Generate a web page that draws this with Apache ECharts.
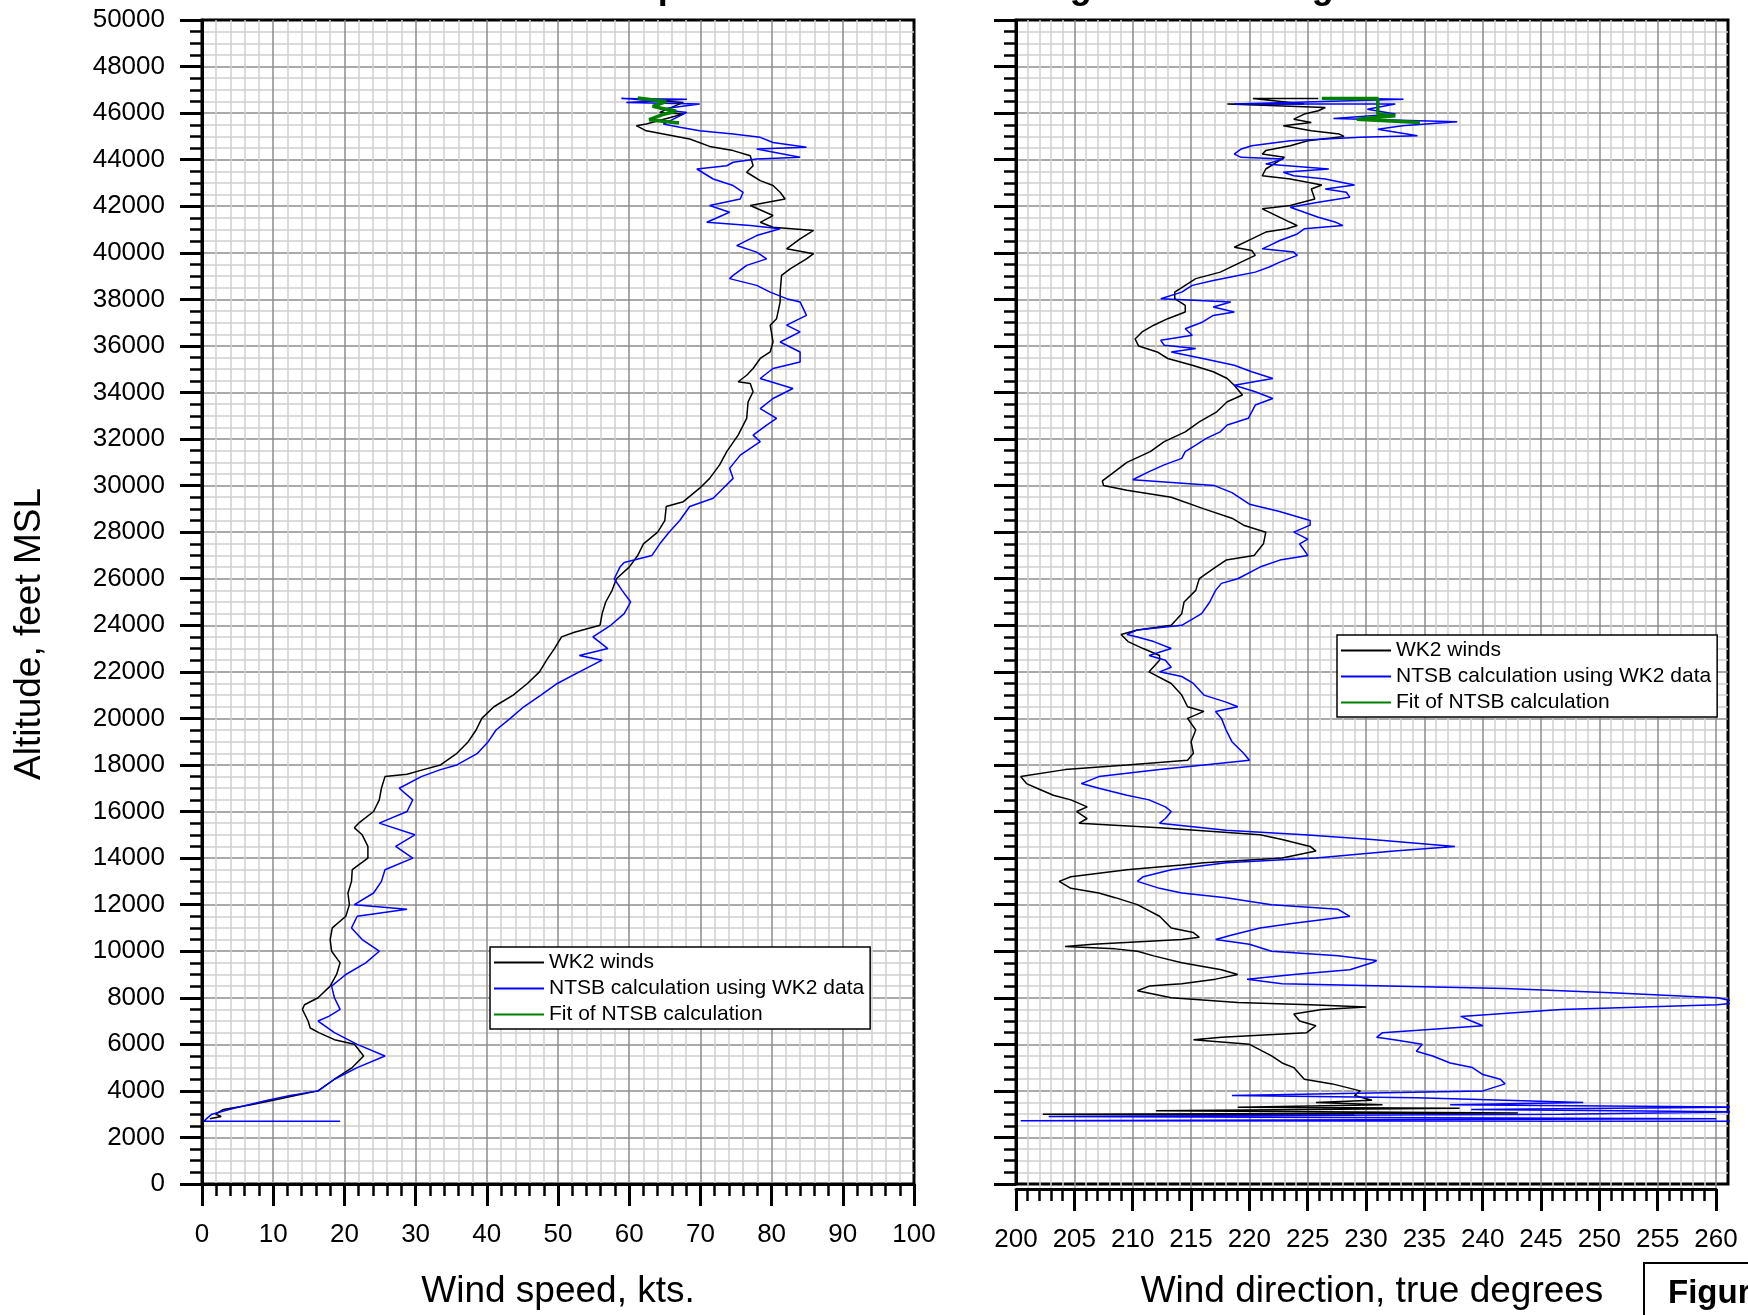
<!DOCTYPE html>
<html>
<head>
<meta charset="utf-8">
<script src="https://cdn.jsdelivr.net/npm/echarts@6/dist/echarts.min.js"></script>
<style>
html, body { margin: 0; padding: 0; background: #fff; }
#main { width: 1748px; height: 1315px; }
</style>
</head>
<body>
<div id="main"></div>
<script type="text/javascript">

var FONT = '"Liberation Sans", Arial, sans-serif';

var seriesNames = ['WK2 winds', 'NTSB calculation using WK2 data', 'Fit of NTSB calculation'];
var seriesColors = ['#000000', '#0000ff', '#008000'];

// wind speed [kts, altitude ft]
var speedWk2 = [
    [1.1,2800],[2.7,2900],[1.9,3000],[3,3200],[6.9,3400],[10,3600],[13.1,3800],[16.3,4000],
    [18.6,4500],[21.1,5000],[22.7,5500],[21.4,6000],[18.6,6200],[16.4,6500],[15.2,6700],[14.9,7000],
    [14.1,7500],[14.4,7700],[16.3,8000],[18,8500],[18.9,9000],[19.4,9500],[18.2,10000],[18,10500],
    [18.3,11000],[20.2,11500],[20.7,12000],[20.5,12500],[21,13000],[21.1,13500],[23.3,14000],[23.3,14500],
    [22.5,15000],[21.4,15300],[22,15500],[24.1,16000],[24.9,16500],[25.2,17000],[25.7,17500],[28.8,17600],
    [31.1,17800],[33.5,18000],[35.8,18500],[37.4,19000],[38.5,19500],[39.3,20000],[41,20500],[43.7,21000],
    [45.7,21500],[47.4,22000],[48.4,22500],[49.5,23000],[50.5,23500],[52.3,23700],[55.9,24000],[56.2,24500],
    [56.7,25000],[57.6,25500],[58.2,26000],[60,26500],[61.2,27000],[62,27500],[64,28000],[65,28500],
    [65.2,29100],[67.6,29310],[69.9,29890],[71.3,30310],[72.7,30890],[73.7,31460],[75.3,32170],[76.5,32890],
    [76.7,33600],[77.4,34030],[77,34390],[75.3,34460],[76.5,34740],[77.4,35030],[78.4,35460],[79.8,35740],
    [80.2,36170],[79.8,36890],[80.7,37170],[81.2,37890],[81.2,38310],[81.4,39030],[82.6,39310],[84.9,39740],
    [85.9,39960],[82.1,40170],[84,40600],[85.9,40960],[80.2,41100],[78.4,41310],[80.2,41600],[77,42030],
    [81.9,42310],[81.2,42600],[80.2,42890],[78.4,43100],[76.5,43460],[77.4,43740],[77,44170],[74.6,44390],
    [71.3,44570],[68.5,44890],[62.4,45240],[61,45460],[62.4,45530],[67.6,45960],[64.3,46030],[67.6,46460],
    [60.6,46600]
];
var speedNtsb = [
    [19.4,2700],[0.3,2700],[0.6,2800],[1.4,3000],[3.8,3200],[9.2,3600],[12.4,3800],[16.3,4000],
    [18.6,4500],[21.8,5000],[25.7,5500],[21.8,6000],[18.6,6500],[16.3,7000],[17.8,7200],[19.4,7500],
    [18.6,8000],[18.2,8500],[20.2,9000],[23,9500],[24.9,10000],[22.5,10500],[21,11000],[21.8,11500],
    [28.8,11800],[21.4,12000],[24.1,12500],[25.2,13000],[25.7,13500],[29.6,14000],[27.2,14500],[29.9,15000],
    [24.9,15500],[28.8,16000],[29.6,16500],[27.7,17000],[30.8,17500],[33.5,17800],[35.8,18000],[38.7,18500],
    [40.2,19000],[41.3,19500],[43.3,20000],[45.2,20500],[47.6,21000],[49.9,21500],[53,22000],[56.2,22500],
    [53,22700],[57,23000],[54.9,23500],[57.4,24000],[59.3,24500],[60.2,25000],[59,25500],[57.9,26000],
    [58.7,26500],[59.3,26700],[63.2,27000],[64.3,27500],[65.6,28000],[67.1,28500],[68.5,29100],[71.8,29460],
    [73.2,29890],[74.6,30310],[74.1,30740],[75.6,31310],[78.4,31890],[77.4,32170],[79.3,32600],[80.7,32890],
    [78.4,33310],[80.2,33740],[83,34170],[78.4,34600],[80.2,35030],[84,35310],[84,35740],[81.2,36170],
    [84,36600],[82.1,36890],[84.9,37310],[84,37890],[82.1,38030],[79.8,38310],[77.9,38600],[74.1,38890],
    [74.6,39030],[76.5,39460],[79.3,39740],[77.9,40030],[75.1,40310],[77.9,40740],[81.2,41030],[77,41170],
    [70.9,41310],[74.1,41740],[71.3,42030],[75.6,42310],[76,42600],[74.6,42890],[71.8,43170],[69.5,43600],
    [73.7,43740],[74.6,43890],[77.9,44030],[84,44100],[77.9,44460],[84.9,44530],[80.2,44740],[78.4,44960],
    [74.6,45100],[69.9,45240],[67.1,45390],[64.8,45530],[68.1,46030],[64.3,46170],[69.9,46390],[59.6,46460],
    [68.1,46600],[58.9,46630],[65.2,46530]
];
var speedFit = [
    [61.2,46650],[65.2,46500],[63.3,46290],[66.6,46080],[64.7,45940],[62.8,45720],[67,45580]
];

// wind direction [deg true, altitude ft]
var dirWk2 = [
    [229,2950],[202.3,3000],[243,3050],[212,3150],[238,3250],[219,3300],[231.4,3400],[225.7,3500],
    [230.5,3600],[229,3800],[229.5,4000],[227.1,4300],[224.7,4500],[223.8,5000],[222.8,5200],[221.9,5500],
    [220,6000],[215.2,6200],[217.6,6300],[224.9,6500],[225.7,6800],[224.3,7000],[223.8,7300],[226.2,7500],
    [230,7600],[225.2,7700],[219,7800],[213.3,8000],[210.4,8300],[211.4,8500],[214.2,8600],[217.1,8800],
    [219,9000],[217.6,9200],[214.2,9500],[211.8,9800],[210.4,10000],[208.5,10100],[204.2,10200],[206.6,10300],
    [214.2,10500],[215.7,10600],[215.2,10800],[213.3,11000],[212.3,11500],[210.4,12000],[208.5,12300],[207.1,12500],
    [204.7,12700],[203.7,13000],[204.7,13200],[209.5,13500],[214.2,13700],[216.1,13800],[222.8,14000],[225.7,14300],
    [225.2,14500],[222.8,14800],[220.9,15000],[212.3,15300],[205.4,15500],[206.1,15700],[205.2,16000],[206.1,16200],
    [204.7,16500],[203.2,16700],[201.8,17000],[200.9,17200],[200.4,17500],[204.2,17800],[209.5,18000],[214.7,18200],
    [215.2,18500],[215,19000],[215.4,19500],[214.7,20000],[216.1,20300],[214.7,20500],[214.2,21000],[213.3,21500],
    [211.4,22000],[212.3,22500],[212.3,22700],[210.9,23000],[209.6,23300],[209,23600],[210.4,23800],[213.3,24000],
    [214.2,24500],[214.4,25000],[215.4,25500],[215.7,26000],[217.1,26500],[218,26800],[220.4,27000],[221.2,27500],
    [221.4,28000],[219.5,28300],[218.5,28600],[216.1,29000],[213.3,29500],[209.5,29800],[207.5,30000],[207.4,30200],
    [208.2,30500],[209.5,31000],[211.5,31460],[212.7,31890],[214.5,32310],[215.7,32740],[217.2,33170],[218.1,33600],
    [219.4,33890],[218.7,34310],[218.1,34600],[216.9,34890],[215.1,35170],[213,35460],[212.1,35740],[210.5,36000],
    [210.2,36300],[210.8,36600],[211.8,36890],[213,37170],[214.5,37460],[214.5,37740],[213.6,38030],[213.6,38310],
    [214.5,38600],[215.4,38890],[217.5,39170],[218.7,39460],[220.5,39890],[220.2,40100],[218.7,40240],[220.2,40600],
    [221.4,40890],[223.2,41030],[224.1,41170],[223.5,41310],[222.3,41600],[221.1,41890],[223.5,42030],[225.6,42310],
    [225.3,42740],[226.2,42910],[223.5,43170],[221.1,43310],[221.4,43600],[223,44100],[221.1,44240],[221.4,44390],
    [223.5,44600],[225,44810],[228.1,45000],[227.7,45100],[225.3,45240],[222.9,45460],[225.3,45600],[223.8,45740],
    [224.7,45960],[225.9,46100],[226.5,46240],[218.1,46390],[224.7,46390],[220.3,46630],[225.9,46630]
];
var dirNtsb = [
    [262,2700],[200.4,2720],[260,2800],[202.8,2900],[246.7,3000],[262,3100],[239,3200],[262,3300],
    [237.2,3400],[248.6,3500],[241.9,3600],[234.3,3700],[218.5,3800],[240,4000],[241.9,4300],[241.5,4500],
    [240,4700],[239.1,5000],[237.2,5200],[235.7,5500],[234.3,5700],[234.8,6000],[232.4,6200],[230.9,6300],
    [231.4,6500],[240,6800],[239,7000],[238.1,7200],[246.7,7500],[260.1,7700],[262,7800],[260.1,8000],
    [251.5,8200],[241.9,8400],[222.8,8600],[219.8,8800],[223.8,9000],[228.6,9200],[230.5,9500],[230.9,9600],
    [227.6,9800],[221.9,10000],[220,10300],[217.1,10500],[218.5,10700],[220.9,11000],[223.8,11200],[228.6,11500],
    [227.6,11800],[221.9,12000],[218,12300],[214.2,12500],[212.3,12700],[210.4,13000],[210.9,13200],[213.3,13500],
    [218,13800],[225.7,14000],[232.4,14300],[237.6,14500],[230.5,14800],[224.7,15000],[218,15200],[212.3,15500],
    [212.8,15700],[213.3,16000],[212.8,16200],[211.4,16500],[209.5,16700],[207.1,17000],[205.6,17200],[207.1,17500],
    [212.3,17800],[216.1,18000],[220,18200],[219.5,18500],[218.5,19000],[218,19500],[217.6,20000],[217.1,20300],
    [219,20500],[218,20700],[216.1,21000],[215.2,21500],[214.2,21800],[212.3,22000],[213.3,22200],[212.8,22500],
    [211.4,22700],[213.3,23000],[211.8,23300],[210.4,23500],[209.5,23600],[210.4,23800],[214.2,24000],[215.9,24500],
    [216.6,25000],[217.1,25500],[217.6,25800],[219,26000],[220.9,26500],[222.6,26800],[225,27000],[224.3,27500],
    [225,27700],[223.8,28000],[225.2,28300],[225.2,28500],[222.5,28900],[220,29200],[218.5,29700],[217,30000],
    [210,30250],[211.4,30600],[212.7,30890],[214.2,31170],[214.5,31460],[215.4,31740],[216.3,32030],[217.5,32310],
    [218.1,32600],[219.9,32890],[220.2,33170],[220.5,33460],[222,33740],[220.5,34030],[218.7,34310],[222,34600],
    [220.2,34890],[218.7,35170],[216,35460],[213.3,35740],[215.4,35890],[212.7,36030],[212.4,36240],[215.1,36460],
    [214.5,36740],[216,37030],[216.9,37310],[218.7,37460],[216.9,37670],[218.4,37890],[212.4,38030],[214.2,38310],
    [215.1,38600],[216.9,38810],[218.4,38960],[220.5,39170],[221.7,39390],[222.6,39600],[224.1,39890],[223.8,40030],
    [221.1,40170],[221.7,40310],[222.6,40530],[224.1,40810],[224.7,41030],[228,41170],[227.4,41310],[225.9,41530],
    [224.7,41740],[223.5,41960],[225.9,42170],[228.6,42390],[228.3,42600],[226.5,42740],[229,42910],[226.5,43170],
    [223.8,43310],[222.9,43460],[226.8,43600],[221.4,43810],[222.9,44030],[219.3,44100],[218.7,44240],[219.3,44460],
    [220.2,44600],[223.5,44810],[229.5,44960],[234.4,45030],[231,45310],[233.1,45460],[237.8,45630],[227.2,45770],
    [232.5,45960],[230.1,46170],[232.5,46390],[218.7,46390],[233.2,46600],[229.5,46630]
];
var dirFit = [
    [226.2,46630],[231,46630],[231,45960],[232.5,45890],[229.2,45740],[234.6,45600]
];

function yAxisCfg(gridIndex, showLabels) {
    return {
        type: 'value',
        gridIndex: gridIndex,
        min: 0,
        max: 50000,
        interval: 2000,
        axisLine: { show: true, lineStyle: { color: '#000', width: 3 } },
        axisTick: { show: true, length: 22, lineStyle: { color: '#000', width: 3 } },
        minorTick: { show: true, splitNumber: 4, length: 12, lineStyle: { color: '#000', width: 2.5 } },
        axisLabel: {
            show: showLabels, margin: 37, fontSize: 26, color: '#000', fontFamily: FONT,
            formatter: function (v) { return String(v); }
        },
        splitLine: { show: true, showMinLine: false, showMaxLine: false, lineStyle: { color: '#8c8c8c', width: 1.5 } },
        minorSplitLine: { show: true, lineStyle: { color: '#cfcfcf', width: 1.5 } }
    };
}

function xAxisCfg(gridIndex, min, max, interval, showMax) {
    return {
        type: 'value',
        gridIndex: gridIndex,
        min: min,
        max: max,
        interval: interval,
        axisLine: { show: true, lineStyle: { color: '#000', width: 3 } },
        axisTick: { show: true, length: 22, lineStyle: { color: '#000', width: 3 } },
        minorTick: { show: true, splitNumber: 5, length: 12, lineStyle: { color: '#000', width: 2.5 } },
        axisLabel: { margin: 38, fontSize: 26, color: '#000', fontFamily: FONT },
        splitLine: { show: true, showMinLine: false, showMaxLine: showMax, lineStyle: { color: '#8c8c8c', width: 1.5 } },
        minorSplitLine: { show: true, lineStyle: { color: '#cfcfcf', width: 1.5 } }
    };
}

function makeLine(idx, data, axisIdx) {
    return {
        name: seriesNames[idx],
        type: 'line',
        xAxisIndex: axisIdx,
        yAxisIndex: axisIdx,
        data: data,
        symbol: 'none',
        clip: true,
        lineStyle: { color: seriesColors[idx], width: idx == 2 ? 3.5 : 1.5 },
        itemStyle: { color: seriesColors[idx] }
    };
}

function legendCfg(left, top) {
    return {
        orient: 'vertical',
        left: left,
        top: top,
        selectedMode: false,
        itemWidth: 50,
        itemHeight: 21,
        itemGap: 5,
        padding: [5, 6, 4, 3],
        borderColor: '#000',
        borderWidth: 1.5,
        borderRadius: 0,
        backgroundColor: '#fff',
        itemStyle: { opacity: 0 },
        textStyle: { fontSize: 21, color: '#000', fontFamily: FONT },
        data: seriesNames
    };
}

var speedX = xAxisCfg(0, 0, 100, 10, false);
speedX.name = 'Wind speed, kts.';
speedX.nameLocation = 'middle';
speedX.nameGap = 89;
speedX.nameTextStyle = { fontSize: 37, color: '#000', fontFamily: FONT };

var myChart = echarts.init(document.getElementById('main'));
myChart.setOption({
    animation: false,
    backgroundColor: '#fff',
    grid: [
        { left: 202, top: 20, width: 712, height: 1169, show: true, borderColor: '#000', borderWidth: 3 },
        { left: 1016, top: 20, width: 700, height: 1169 },
        { left: 1016, top: 20, width: 712, height: 1169, show: true, borderColor: '#000', borderWidth: 3 }
    ],
    xAxis: [
        speedX,
        xAxisCfg(1, 200, 260, 5, true),
        {
            type: 'value', gridIndex: 2, min: 200, max: 261,
            axisLine: { show: false }, axisTick: { show: false }, axisLabel: { show: false },
            splitLine: { show: false },
            name: 'Wind direction, true degrees',
            nameLocation: 'middle',
            nameGap: 89,
            nameTextStyle: { fontSize: 37, color: '#000', fontFamily: FONT }
        }
    ],
    yAxis: [
        yAxisCfg(0, true),
        { type: 'value', gridIndex: 1, min: 0, max: 50000, show: false },
        yAxisCfg(2, false)
    ],
    legend: [legendCfg(490, 947), legendCfg(1337, 635)],
    graphic: [
        {
            type: 'text', x: 536, y: 6, silent: true,
            style: {
                text: 'Wind Speed and Direction Using WK2 Heading',
                font: 'bold 36px ' + FONT, fill: '#000',
                align: 'left', textAlign: 'left', verticalAlign: 'bottom', textVerticalAlign: 'bottom'
            }
        },
        {
            type: 'text', x: 30, y: 634, rotation: Math.PI / 2, silent: true,
            style: {
                text: 'Altitude, feet MSL',
                font: '37px ' + FONT, fill: '#000',
                align: 'center', textAlign: 'center', verticalAlign: 'middle', textVerticalAlign: 'middle'
            }
        },
        {
            type: 'rect', x: 1644, y: 1263, silent: true,
            shape: { x: 0, y: 0, width: 160, height: 90 },
            style: { fill: '#fff', stroke: '#000', lineWidth: 2 }
        },
        {
            type: 'text', x: 1668, y: 1294, silent: true,
            style: {
                text: 'Figure 10',
                font: 'bold 33px ' + FONT, fill: '#000',
                align: 'left', textAlign: 'left', verticalAlign: 'middle', textVerticalAlign: 'middle'
            }
        }
    ],
    series: [
        makeLine(0, speedWk2, 0),
        makeLine(1, speedNtsb, 0),
        makeLine(2, speedFit, 0),
        makeLine(0, dirWk2, 2),
        makeLine(1, dirNtsb, 2),
        makeLine(2, dirFit, 2)
    ]
});
</script>
</body>
</html>
